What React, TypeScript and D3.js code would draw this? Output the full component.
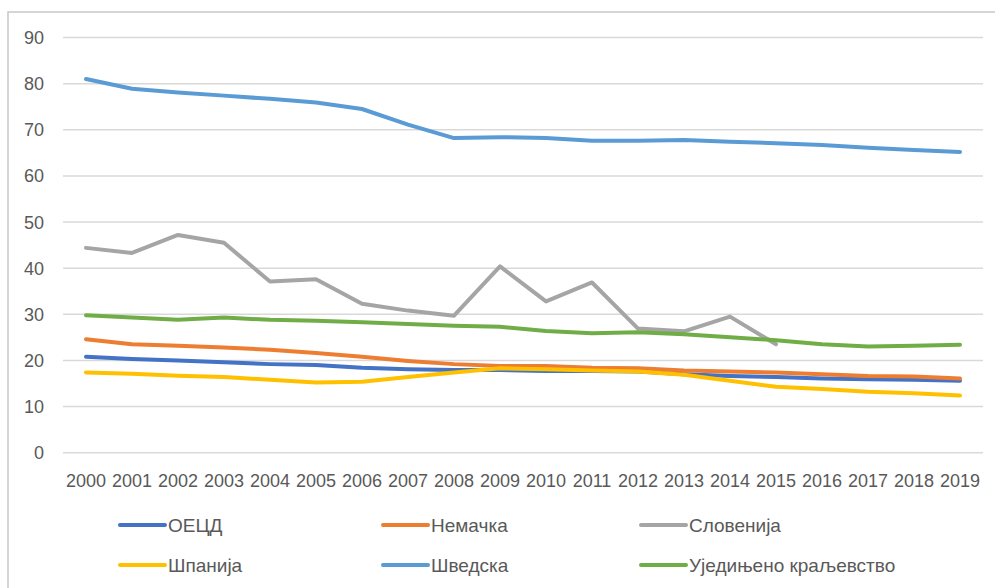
import React from "react";
import * as d3 from "d3";

const years = ["2000","2001","2002","2003","2004","2005","2006","2007","2008","2009","2010","2011","2012","2013","2014","2015","2016","2017","2018","2019"];
const yTicks = [0,10,20,30,40,50,60,70,80,90];

const oecd = [20.8,20.3,20.0,19.6,19.2,19.0,18.4,18.1,17.9,17.9,17.7,17.7,17.6,17.0,16.6,16.4,16.1,15.9,15.8,15.6];
const germany = [24.6,23.5,23.2,22.8,22.3,21.6,20.8,19.9,19.2,18.8,18.8,18.4,18.3,17.8,17.6,17.4,17.0,16.6,16.5,16.1];
const slovenia: (number|null)[] = [44.4,43.3,47.2,45.5,37.1,37.6,32.3,30.8,29.7,40.4,32.8,36.9,26.9,26.3,29.5,23.5,null,null,null,null];
const spain = [17.4,17.1,16.7,16.4,15.8,15.2,15.4,16.4,17.4,18.3,18.1,17.8,17.6,16.9,15.6,14.3,13.8,13.2,12.9,12.4];
const sweden = [81.0,78.9,78.1,77.4,76.7,75.9,74.5,71.1,68.2,68.4,68.2,67.6,67.6,67.8,67.4,67.1,66.7,66.1,65.6,65.2];
const uk = [29.8,29.3,28.8,29.3,28.8,28.6,28.3,27.9,27.5,27.3,26.4,25.9,26.1,25.7,25.0,24.4,23.5,23.0,23.2,23.4];

const seriesNames = ["ОЕЦД","Немачка","Словенија","Шпанија","Шведска","Уједињено краљевство"];
const seriesColors = ["#4472C4","#ED7D31","#A5A5A5","#FFC000","#5B9BD5","#70AD47"];
const seriesValues = [oecd, germany, slovenia, spain, sweden, uk];

export default function App() {
  const W = 995, H = 588;
  const x = d3.scaleBand<string>().domain(years).range([63, 983]);
  const y = d3.scaleLinear().domain([0, 90]).range([452.7, 37.5]);
  const line = d3.line<number|null>()
    .defined(d => d !== null)
    .x((_, i) => (x(years[i]) as number) + x.bandwidth() / 2)
    .y(d => y(d as number));
  const font = "'Liberation Sans', Arial, sans-serif";
  const legendX = [120, 383, 641];
  const legendY = [525, 565];
  return (
    <svg width={W} height={H} style={{ position: "absolute", left: 0, top: 0, background: "#fff" }}>
      <rect x={8} y={12} width={W + 10} height={H + 10} fill="#fff" stroke="#c8c8c8" strokeWidth={1.5} />
      {yTicks.map(t => (
        <g key={t}>
          <line x1={63} x2={983} y1={y(t)} y2={y(t)} stroke="#d9d9d9" strokeWidth={1.5} />
          <text x={44} y={y(t) + 6.5} textAnchor="end" fontFamily={font} fontSize={18} fill="#595959">{t}</text>
        </g>
      ))}
      {years.map(yr => (
        <text key={yr} x={(x(yr) as number) + x.bandwidth() / 2} y={487} textAnchor="middle" fontFamily={font} fontSize={18} fill="#595959">{yr}</text>
      ))}
      {seriesValues.map((vals, i) => (
        <path key={i} d={line(vals) || ""} fill="none" stroke={seriesColors[i]} strokeWidth={4} strokeLinejoin="round" strokeLinecap="round" />
      ))}
      {seriesNames.map((name, i) => {
        const cx = legendX[i % 3];
        const cy = legendY[Math.floor(i / 3)];
        return (
          <g key={name}>
            <line x1={cx} x2={cx + 45} y1={cy} y2={cy} stroke={seriesColors[i]} strokeWidth={4} strokeLinecap="round" />
            <text x={cx + 48} y={cy + 7} fontFamily={font} fontSize={19} fill="#595959">{name}</text>
          </g>
        );
      })}
    </svg>
  );
}
